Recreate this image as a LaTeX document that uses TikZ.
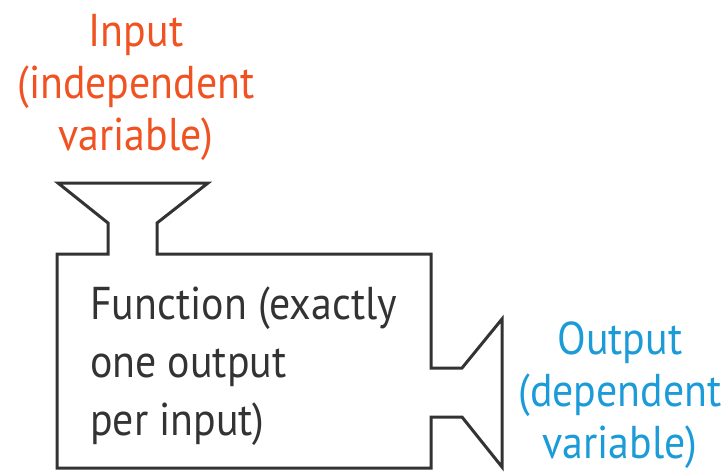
\documentclass[tikz,border=0pt]{standalone}
\usepackage{fontspec}
\setmainfont{PT Sans}[FakeStretch=0.91]
\definecolor{inorange}{RGB}{240,82,34}
\definecolor{outblue}{RGB}{27,155,215}
\definecolor{linegray}{RGB}{51,51,51}
\begin{document}
\begin{tikzpicture}[x=1pt,y=-1pt,
  outline/.style={draw=linegray, line width=3pt, line join=miter},
  lbl/.style={inner sep=0pt, align=center, font=\fontsize{46}{52}\selectfont},
  fnlbl/.style={inner sep=0pt, align=left, font=\fontsize{46}{58}\selectfont, text=linegray}]
\useasboundingbox (0,0) rectangle (728,475);
\draw[outline] (58,183) -- (208,183) -- (157,223) -- (157,254) -- (431,254) -- (431,368) -- (462,368) -- (502,319) -- (502,467) -- (462,417) -- (431,417) -- (431,468) -- (57,468) -- (57,254) -- (108,254) -- (108,223) -- cycle;
\node[lbl, text=inorange, anchor=base] (input) at (136,150) {Input\\(independent\\variable)};
\node[lbl, text=outblue, anchor=base] (output) at (620,458) {Output\\(dependent\\variable)};
\node[fnlbl, anchor=base west] (function) at (90,435) {Function (exactly\\one output\\per input)};
\end{tikzpicture}
\end{document}
